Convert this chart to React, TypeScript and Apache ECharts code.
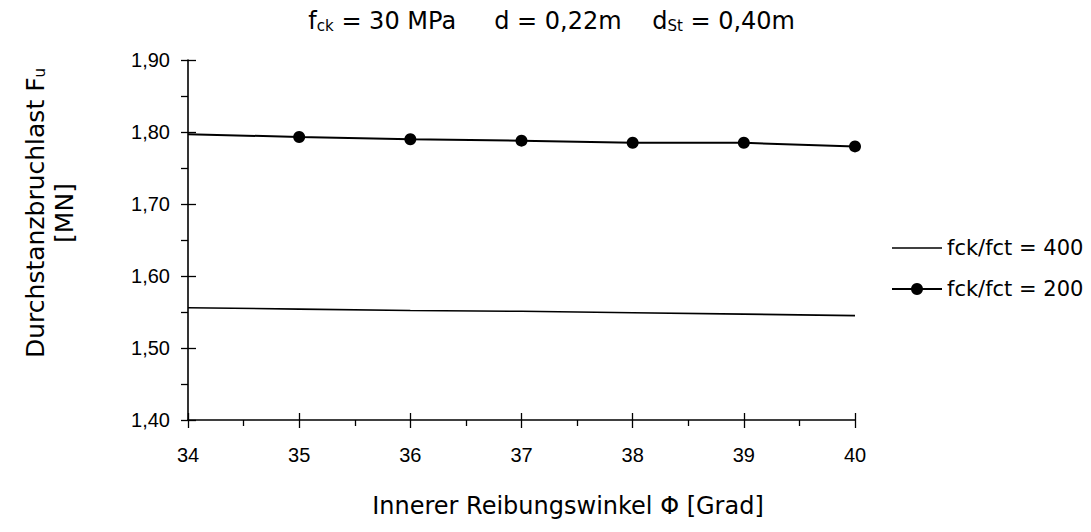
import React, { useEffect, useRef } from "react";
import * as echarts from "echarts";

const xValues = [34, 35, 36, 37, 38, 39, 40];
const series400 = [1.556, 1.554, 1.552, 1.551, 1.549, 1.547, 1.545];
const series200 = [1.797, 1.793, 1.79, 1.788, 1.785, 1.785, 1.78];
const seriesNames = ["fck/fct = 400", "fck/fct = 200"];
const yMin = 1.4;
const yMax = 1.9;
const yStep = 0.1;
const xMin = 34;
const xMax = 40;

const ARIAL = "'Liberation Sans', Arial, sans-serif";
const WIDE = "'DejaVu Sans', 'Liberation Sans', sans-serif";

export default function App() {
  const ref = useRef<HTMLDivElement>(null);
  useEffect(() => {
    document.body.style.margin = "0";
    const chart = echarts.init(ref.current!, null, { renderer: "svg" });
    const fmt = (v: number) => v.toFixed(2).replace(".", ",");
    const baseX = {
      type: "value",
      min: xMin,
      max: xMax,
      interval: 1,
      position: "bottom",
      splitLine: { show: false },
    };
    const baseY = {
      type: "value",
      min: yMin,
      max: yMax,
      interval: yStep,
      position: "left",
      splitLine: { show: false },
    };
    const legendRow = (name: string, y: number, marker: boolean) => ({
      type: "group",
      children: [
        {
          type: "line",
          shape: { x1: 892, y1: y, x2: 942, y2: y },
          style: { stroke: "#000", lineWidth: marker ? 2 : 1.6 },
        },
        ...(marker
          ? [{ type: "circle", shape: { cx: 917, cy: y, r: 6 }, style: { fill: "#000" } }]
          : []),
        {
          type: "text",
          x: 947,
          y: y,
          style: {
            text: name,
            fontSize: 21,
            fontFamily: WIDE,
            fill: "#000",
            align: "left",
            verticalAlign: "middle",
          },
        },
      ],
    });
    chart.setOption({
      animation: false,
      textStyle: { fontFamily: ARIAL },
      grid: { left: 188, top: 60, width: 667, height: 360, containLabel: false },
      xAxis: [
        {
          ...baseX,
          axisLine: { show: true, lineStyle: { color: "#000", width: 1.6 } },
          axisTick: { show: true, inside: false, length: 8, lineStyle: { color: "#000", width: 1.3 } },
          minorTick: { show: true, splitNumber: 2, length: 6, lineStyle: { color: "#000", width: 1.3 } },
          axisLabel: { color: "#000", fontSize: 20, margin: 25, fontFamily: ARIAL },
        },
        {
          ...baseX,
          axisLine: { show: false },
          axisTick: { show: true, inside: true, length: 7, lineStyle: { color: "#000", width: 1.3 } },
          axisLabel: { show: false },
        },
      ],
      yAxis: [
        {
          ...baseY,
          axisLine: { show: true, lineStyle: { color: "#000", width: 1.6 } },
          axisTick: { show: true, inside: false, length: 7, lineStyle: { color: "#000", width: 1.3 } },
          minorTick: { show: true, splitNumber: 2, length: 7, lineStyle: { color: "#000", width: 1.3 } },
          axisLabel: { color: "#000", fontSize: 20, margin: 18, formatter: fmt, fontFamily: ARIAL },
        },
        {
          ...baseY,
          axisLine: { show: false },
          axisTick: { show: true, inside: true, length: 8, lineStyle: { color: "#000", width: 1.3 } },
          axisLabel: { show: false },
        },
      ],
      graphic: [
        {
          type: "text",
          right: 296,
          top: 8,
          style: {
            text: "{a|f}{s|ck}{a| = 30 MPa     d = 0,22m    d}{s|St}{a| = 0,40m}",
            rich: {
              a: { fontSize: 24, fontFamily: WIDE, fill: "#000", lineHeight: 30, verticalAlign: "bottom" },
              s: { fontSize: 15, fontFamily: WIDE, fill: "#000", lineHeight: 20, padding: [10, 0, 0, 0], verticalAlign: "bottom" },
            },
          },
        },
        {
          type: "text",
          x: 50,
          y: 213,
          rotation: Math.PI / 2,
          style: {
            text: "{a|Durchstanzbruchlast F}{s|u}\n{a|[MN]}",
            align: "center",
            verticalAlign: "middle",
            rich: {
              a: { fontSize: 25, fontFamily: WIDE, fill: "#000", lineHeight: 29, align: "center" },
              s: { fontSize: 15, fontFamily: WIDE, fill: "#000", lineHeight: 18, padding: [9, 0, 0, 0] },
            },
          },
        },
        {
          type: "text",
          x: 568,
          y: 506,
          style: {
            text: "Innerer Reibungswinkel Φ [Grad]",
            align: "center",
            verticalAlign: "middle",
            fontSize: 24,
            fontFamily: WIDE,
            fill: "#000",
          },
        },
        legendRow(seriesNames[0], 248, false),
        legendRow(seriesNames[1], 289, true),
      ],
      series: [
        {
          name: seriesNames[0],
          type: "line",
          symbol: "none",
          data: xValues.map((x, i) => [x, series400[i]]),
          lineStyle: { color: "#000", width: 1.6 },
          itemStyle: { color: "#000" },
        },
        {
          name: seriesNames[1],
          type: "line",
          symbol: "circle",
          symbolSize: 12,
          data: xValues.map((x, i) =>
            i === 0 ? { value: [x, series200[i]], symbol: "none" } : [x, series200[i]]
          ),
          lineStyle: { color: "#000", width: 2 },
          itemStyle: { color: "#000" },
        },
      ],
    });
    return () => chart.dispose();
  }, []);
  return <div ref={ref} style={{ width: 1091, height: 532 }} />;
}
